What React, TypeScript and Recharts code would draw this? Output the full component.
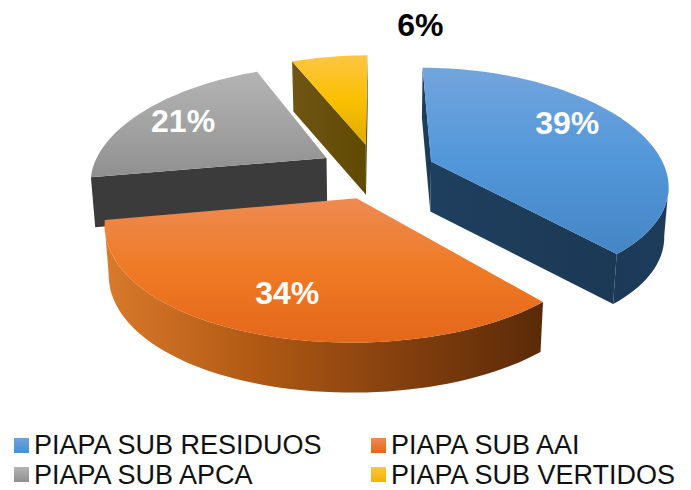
import React from "react";
import { PieChart, Pie, Cell, Legend } from "recharts";

const names = ["PIAPA SUB RESIDUOS", "PIAPA SUB AAI", "PIAPA SUB APCA", "PIAPA SUB VERTIDOS"];
// unrounded shares, read from the slice edges; the labels show them rounded
const values = [38.6, 33.6, 21.4, 6.4];

// slices are painted in this order so orange ends up over the grey wall
const paintOrder = [2, 3, 0, 1];
const sliceKeys = ["blue", "orange", "grey", "yellow"];
const legendSwatch = [
  "linear-gradient(#6ea3dc, #4a8fd3)",
  "linear-gradient(#ee8a52, #e4671a)",
  "linear-gradient(#b4b4b4, #8f8f8f)",
  "linear-gradient(#fcc642, #f0b400)",
];
// label spot in pie units: radius from the slice apex, clockwise degrees from top
const labelSpots = [
  [0.746, 60],
  [0.733, 198.4],
  [0.773, 298.2],
  [1.44, 11.7],
];

const WIDTH = 691;
const HEIGHT = 490;
const RADIUS = 235;
const TILT = 111.4 / 235;
const PERSPECTIVE_X = 0.19;
const PERSPECTIVE_Y = 0.16;
const EXPLODE = 0.25;
const DEPTH = 50;

const data = paintOrder.map((i) => ({ name: names[i], value: values[i], key: sliceKeys[i] }));
const firstAngle = 90 + (values[2] + values[3]) * 3.6;

const project = (cx: number, cy: number, r: number, x: number, y: number, drop = 0) => {
  const px = (r * x) / (1 - PERSPECTIVE_X * y);
  const py = (r * TILT * y) / (1 - PERSPECTIVE_Y * y);
  return drop ? [cx + px * 0.985, cy + py + drop] : [cx + px, cy + py];
};

const rad = (a: number) => (a * Math.PI) / 180;
const toPath = (pts: number[][]) => "M" + pts.map((p) => p[0].toFixed(1) + "," + p[1].toFixed(1)).join("L") + "Z";

function Slice3D(props: any) {
  const { cx, cy, outerRadius, startAngle, endAngle, payload } = props;
  const key = payload.key ?? props.key;
  const mid = rad((startAngle + endAngle) / 2);
  const ox = EXPLODE * Math.cos(mid);
  const oy = -EXPLODE * Math.sin(mid);
  const steps = Math.max(6, Math.round(Math.abs(startAngle - endAngle) / 2));
  const ground: number[][] = [];
  for (let i = 0; i <= steps; i++) {
    const a = rad(startAngle + ((endAngle - startAngle) * i) / steps);
    ground.push([ox + Math.cos(a), oy - Math.sin(a)]);
  }
  const top = ground.map((g) => project(cx, cy, outerRadius, g[0], g[1]));
  const bottom = ground.map((g) => project(cx, cy, outerRadius, g[0], g[1], DEPTH));
  const apexTop = project(cx, cy, outerRadius, ox, oy);
  const apexBottom = project(cx, cy, outerRadius, ox, oy, DEPTH);
  const inner = top[Math.floor(steps / 2)];

  const walls: React.ReactNode[] = [];
  [0, steps].forEach((idx) => {
    const b = top[idx];
    const cross = (b[0] - apexTop[0]) * (inner[1] - apexTop[1]) - (b[1] - apexTop[1]) * (inner[0] - apexTop[0]);
    const down = b[0] - apexTop[0];
    if (cross * down < 0) {
      walls.push(<path key={idx} d={toPath([apexTop, b, bottom[idx], apexBottom])} fill={`url(#wall-${key})`} />);
    }
  });

  const front: number[] = [];
  for (let i = 0; i < steps; i++) {
    if (top[i + 1][0] < top[i][0]) front.push(i, i + 1);
  }
  if (front.length) {
    const from = Math.min(...front);
    const to = Math.max(...front);
    const upper = top.slice(from, to + 1);
    const lower = bottom.slice(from, to + 1).reverse();
    walls.push(<path key="arc" d={toPath([...upper, ...lower])} fill={`url(#arc-${key})`} />);
  }

  return (
    <g>
      {walls}
      <path d={toPath([apexTop, ...top])} fill={`url(#top-${key})`} />
    </g>
  );
}

function sliceLabel(props: any) {
  const { cx, cy, outerRadius, midAngle, payload, value } = props;
  const spot = labelSpots[names.indexOf(payload.name)];
  const m = rad(midAngle);
  const a = rad(spot[1]);
  const x = EXPLODE * Math.cos(m) + spot[0] * Math.sin(a);
  const y = -EXPLODE * Math.sin(m) - spot[0] * Math.cos(a);
  const p = project(cx, cy, outerRadius, x, y);
  return (
    <text
      x={p[0]}
      y={p[1]}
      textAnchor="middle"
      dominantBaseline="central"
      fontFamily="Liberation Sans"
      fontWeight="bold"
      fontSize={32}
      fill={payload.key === "yellow" ? "#000000" : "#ffffff"}
    >
      {Math.round(value)}%
    </text>
  );
}

function Grad({ id, stops, horizontal }: { id: string; stops: string[]; horizontal?: boolean }) {
  return (
    <linearGradient id={id} x1="0" y1="0" x2={horizontal ? "1" : "0"} y2={horizontal ? "0" : "1"}>
      {stops.map((c, i) => (
        <stop key={i} offset={i / (stops.length - 1)} stopColor={c} />
      ))}
    </linearGradient>
  );
}

function LegendBlock() {
  return (
    <div style={{ display: "grid", gridTemplateColumns: "357px 310px", rowGap: 5.5, fontFamily: "Liberation Sans", fontSize: 27, color: "#111", lineHeight: "24px" }}>
      {names.map((n, i) => (
        <div key={n} style={{ display: "flex", alignItems: "center", whiteSpace: "nowrap" }}>
          <span style={{ width: 15, height: 15, marginRight: 5, background: legendSwatch[i], display: "inline-block" }} />
          {n}
        </div>
      ))}
    </div>
  );
}

export default function App() {
  return (
    <div style={{ position: "absolute", left: 0, top: 0, width: WIDTH, height: HEIGHT, background: "#fff" }}>
      <PieChart width={WIDTH} height={HEIGHT} margin={{ top: 0, right: 0, bottom: 0, left: 0 }}>
        <defs>
          <Grad id="top-blue" stops={["#72a5dd", "#5297d9", "#4585c5"]} />
          <Grad id="arc-blue" horizontal stops={["#1c3a58", "#1d3c5c"]} />
          <Grad id="wall-blue" horizontal stops={["#1f3f5f", "#1b3955"]} />
          <Grad id="top-orange" stops={["#ee8a52", "#ef7a24", "#e4671a"]} />
          <Grad id="arc-orange" horizontal stops={["#d97a2c", "#b25a14", "#85400e", "#5a2a08"]} />
          <Grad id="wall-orange" horizontal stops={["#5a2a08", "#5a2a08"]} />
          <Grad id="top-grey" stops={["#b4b4b4", "#a3a3a3", "#8f8f8f"]} />
          <Grad id="arc-grey" horizontal stops={["#3b3b3b", "#3b3b3b"]} />
          <Grad id="wall-grey" horizontal stops={["#3b3b3b", "#3b3b3b"]} />
          <Grad id="top-yellow" stops={["#fcc642", "#fbc000", "#dfab00"]} />
          <Grad id="arc-yellow" horizontal stops={["#6a5100", "#5f4a00"]} />
          <Grad id="wall-yellow" horizontal stops={["#705516", "#5f4a00"]} />
        </defs>
        <Pie
          data={data}
          dataKey="value"
          nameKey="name"
          cx={377}
          cy={171}
          innerRadius={0}
          outerRadius={RADIUS}
          startAngle={firstAngle}
          endAngle={firstAngle - 360}
          paddingAngle={0}
          stroke="none"
          shape={Slice3D}
          label={sliceLabel}
          labelLine={false}
          isAnimationActive={false}
        >
          {data.map((d) => (
            <Cell key={d.name} />
          ))}
        </Pie>
        <Legend content={<LegendBlock />} wrapperStyle={{ position: "absolute", left: 14, top: 433, width: 670, bottom: "auto" }} />
      </PieChart>
    </div>
  );
}
